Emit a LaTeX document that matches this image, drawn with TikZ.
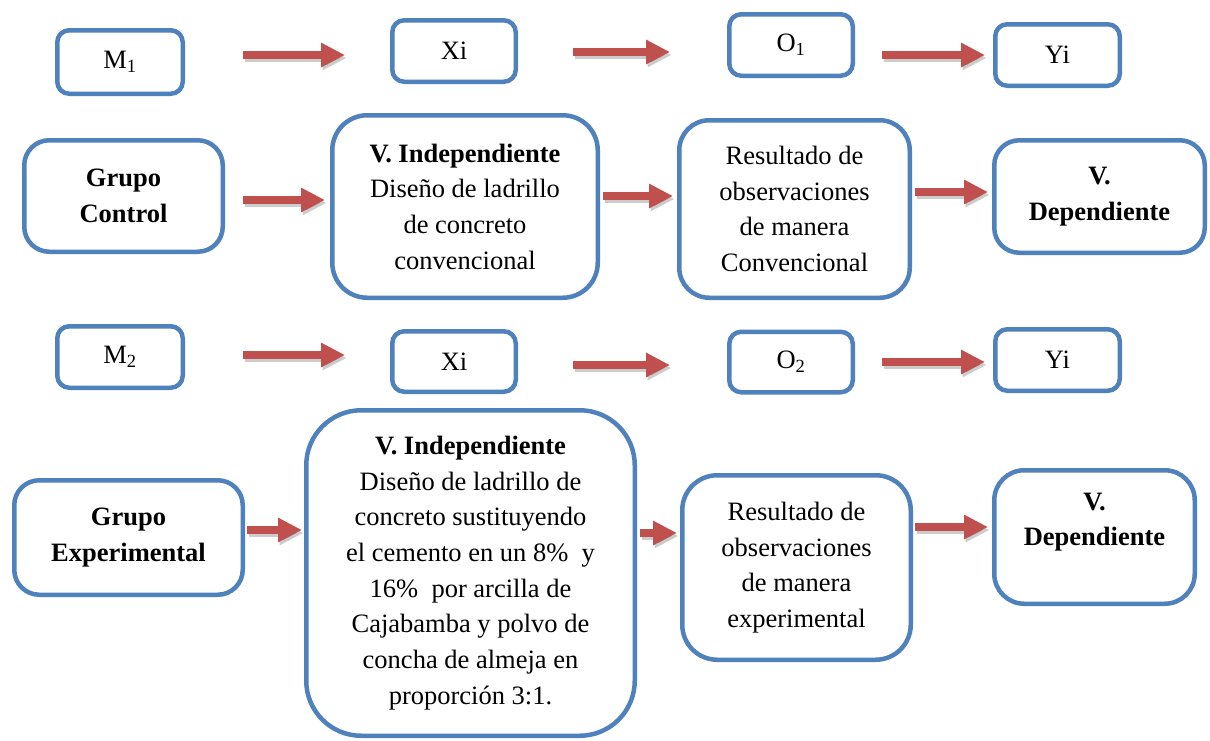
\documentclass[tikz,border=0pt]{standalone}
\usepackage{fontspec}
\setmainfont{Liberation Serif}[Ligatures=TeX]
\usetikzlibrary{arrows.meta}
\definecolor{boxblue}{HTML}{4F81BD}
\definecolor{arrred}{HTML}{C0504D}
\newcommand\flecha[2]{%
  \draw[arrsh] #1 -- #2;
  \draw[arr] #1 -- #2;}
\begin{document}
\begin{tikzpicture}[x=1pt,y=-1pt,
  box/.style={draw=boxblue, line width=4.5pt, fill=white, align=center, inner sep=2pt,
    font=\rmfamily\fontsize{26.5}{35.7}\selectfont},
  sbox/.style={box, rounded corners=12pt},
  txt/.style={align=center, inner sep=0pt, font=\rmfamily\fontsize{26.5}{35.7}\selectfont},
  arr/.style={draw=arrred, line width=8pt, -{Triangle[length=24pt,width=23pt]}},
  arrsh/.style={draw=black, opacity=0.2, line width=8pt, -{Triangle[length=24pt,width=23pt]},
    transform canvas={shift={(1.5pt,-3pt)}}}]
\useasboundingbox (0,0) rectangle (1210,740);
% row 1
\node[sbox, minimum width=125.5pt, minimum height=63.5pt] (m1) at (120,62) {M\textsubscript{1}};
\node[sbox, minimum width=123.5pt, minimum height=61.5pt] (xi1) at (454,51) {Xi};
\node[sbox, minimum width=123.5pt, minimum height=61.5pt] (o1) at (791,45) {O\textsubscript{1}};
\node[sbox, minimum width=124.5pt, minimum height=61.5pt] (yi1) at (1057.5,55) {Yi};
% row 2
\node[box, rounded corners=25pt, minimum width=198.5pt, minimum height=111.5pt] (gc) at (123.5,196)
  {\textbf{Grupo}\\\textbf{Control}};
\node[box, rounded corners=35pt, minimum width=265.5pt, minimum height=182.5pt] (vi1) at (465,206.5)
  {\textbf{V. Independiente}\\Diseño de ladrillo\\de concreto\\convencional};
\node[box, rounded corners=30pt, minimum width=230.5pt, minimum height=177.5pt] (r1) at (794.5,209)
  {Resultado de\\observaciones\\de manera\\Convencional};
\node[box, rounded corners=25pt, minimum width=210.5pt, minimum height=112.5pt] (vd1) at (1099.5,196.5)
  {\textbf{V.}\\\textbf{Dependiente}};
% row 3
\node[sbox, minimum width=125.5pt, minimum height=61.5pt] (m2) at (120,357) {M\textsubscript{2}};
\node[sbox, minimum width=123.5pt, minimum height=60.5pt] (xi2) at (454,361.5) {Xi};
\node[sbox, minimum width=123.5pt, minimum height=60.5pt] (o2) at (791,362) {O\textsubscript{2}};
\node[sbox, minimum width=124.5pt, minimum height=61.5pt] (yi2) at (1057.5,360) {Yi};
% row 4
\node[box, rounded corners=25pt, minimum width=228.5pt, minimum height=114.5pt] (ge) at (128.5,537.5)
  {\textbf{Grupo}\\\textbf{Experimental}};
\node[box, rounded corners=55pt, minimum width=328.5pt, minimum height=325.5pt] (vi2) at (470.5,573)
  {\textbf{V. Independiente}\\Diseño de ladrillo de\\concreto sustituyendo\\el cemento en un 8\%\ \ y\\16\%\ \ por arcilla de\\Cajabamba y polvo de\\concha de almeja en\\proporción 3:1.};
\node[box, rounded corners=35pt, minimum width=228.5pt, minimum height=184.5pt] (r2) at (796.5,567.5)
  {Resultado de\\observaciones\\de manera\\experimental};
\node[box, rounded corners=30pt, minimum width=200.5pt, minimum height=133.5pt] (vd2) at (1094.5,537) {};
\node[txt] (vd2t) at ([yshift=15pt]vd2.center) {\textbf{V.}\\\textbf{Dependiente}};
% arrows
\flecha{([xshift=58pt,yshift=7pt]m1.east)}{([xshift=-45pt,yshift=-4pt]xi1.west)}
\flecha{([xshift=55pt,yshift=-1pt]xi1.east)}{([xshift=-57pt,yshift=-7pt]o1.west)}
\flecha{([xshift=27pt,yshift=-10pt]o1.east)}{([xshift=-8pt,yshift=0pt]yi1.west)}
\flecha{([xshift=18pt,yshift=-4pt]gc.east)}{([xshift=-5pt,yshift=6.5pt]vi1.west)}
\flecha{([xshift=3pt,yshift=10.5pt]vi1.east)}{([xshift=-4pt,yshift=13pt]r1.west)}
\flecha{([xshift=3pt,yshift=17pt]r1.east)}{([xshift=-4pt,yshift=4.5pt]vd1.west)}
\flecha{([xshift=58pt,yshift=2pt]m2.east)}{([xshift=-45pt,yshift=6.5pt]xi2.west)}
\flecha{([xshift=55pt,yshift=-3.5pt]xi2.east)}{([xshift=-57pt,yshift=-3pt]o2.west)}
\flecha{([xshift=27pt,yshift=0pt]o2.east)}{([xshift=-8pt,yshift=-2pt]yi2.west)}
\flecha{([xshift=2pt,yshift=7.5pt]ge.east)}{([xshift=-2pt,yshift=43pt]vi2.west)}
\flecha{([xshift=3pt,yshift=40pt]vi2.east)}{([xshift=-3pt,yshift=34.5pt]r2.west)}
\flecha{([xshift=2pt,yshift=40.5pt]r2.east)}{([xshift=-4pt,yshift=10pt]vd2.west)}
\end{tikzpicture}
\end{document}
